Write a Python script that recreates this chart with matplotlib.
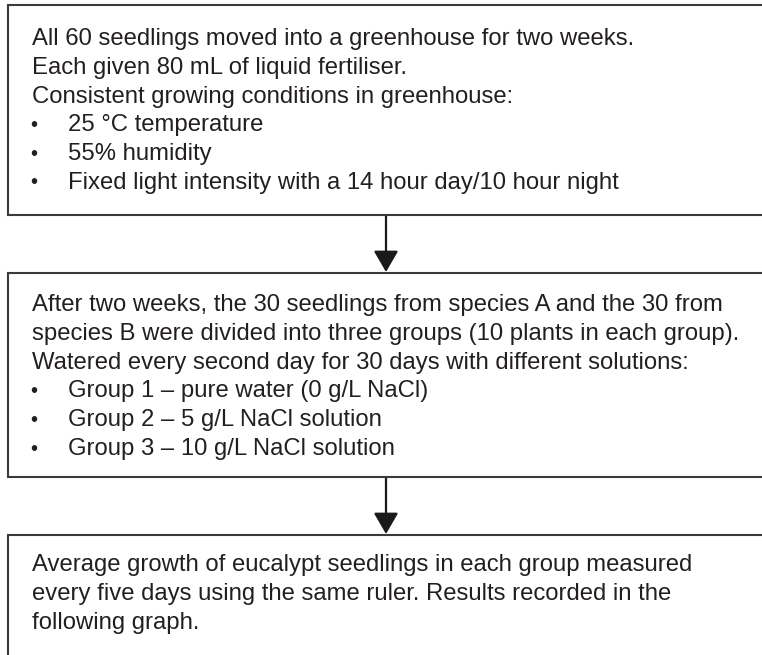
import matplotlib
matplotlib.use("Agg")
import matplotlib.pyplot as plt
from matplotlib.patches import FancyArrowPatch

# text of each step in the flow chart
box1_lines = [
    "All 60 seedlings moved into a greenhouse for two weeks.",
    "Each given 80 mL of liquid fertiliser.",
    "Consistent growing conditions in greenhouse:",
]
box1_bullets = [
    "25 °C temperature",
    "55% humidity",
    "Fixed light intensity with a 14 hour day/10 hour night",
]
box2_lines = [
    "After two weeks, the 30 seedlings from species A and the 30 from",
    "species B were divided into three groups (10 plants in each group).",
    "Watered every second day for 30 days with different solutions:",
]
box2_bullets = [
    "Group 1 – pure water (0 g/L NaCl)",
    "Group 2 – 5 g/L NaCl solution",
    "Group 3 – 10 g/L NaCl solution",
]
box3_lines = [
    "Average growth of eucalypt seedlings in each group measured",
    "every five days using the same ruler. Results recorded in the",
    "following graph.",
]
box3_bullets = []

W, H = 762, 655
fig = plt.figure(figsize=(W / 100, H / 100), dpi=100)
ax = fig.add_axes([0, 0, 1, 1])
ax.set_xlim(0, W)
ax.set_ylim(H, 0)
ax.axis("off")

edge = "#3a3a3a"
txt = "#231f20"
fs = 17.2
step = 28.8
left = 8
right = W + 20  # boxes run off the right edge


def draw_box(top, bottom, lines, bullets, first):
    # left, top, bottom edges (right side is cut off in the original)
    ax.plot([right, left, left, right], [top, top, bottom, bottom],
            color=edge, lw=1.5, solid_joinstyle="miter")
    y = first
    for s in lines:
        ax.text(32, y, s, fontsize=fs, color=txt, va="center", ha="left",
                family="Liberation Sans")
        y += step
    for s in bullets:
        ax.text(34, y, "•", fontsize=fs * 0.85, color=txt, va="center", ha="center",
                family="Liberation Sans")
        ax.text(68, y, s, fontsize=fs, color=txt, va="center", ha="left",
                family="Liberation Sans")
        y += step


def draw_arrow(y0, y1, x=386):
    ax.add_patch(FancyArrowPatch((x, y0), (x, y1),
                                 arrowstyle="-|>,head_length=1.0,head_width=0.58",
                                 mutation_scale=13, color="#1a1a1a", lw=1.6,
                                 shrinkA=0, shrinkB=0))


draw_box(5, 215, box1_lines, box1_bullets, 39)
draw_box(273, 477, box2_lines, box2_bullets, 305)
draw_box(535, H + 40, box3_lines, box3_bullets, 565)
draw_arrow(215, 272)
draw_arrow(477, 534)

fig.savefig("out.png", dpi=100, facecolor="white")
